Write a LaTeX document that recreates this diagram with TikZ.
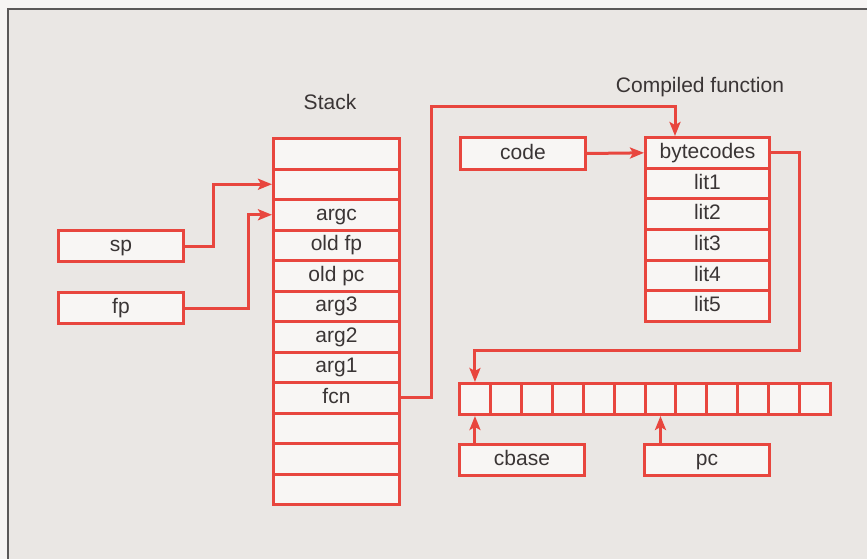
\documentclass[tikz,border=0pt]{standalone}
\usepackage{fontspec}
\setmainfont{Liberation Sans}
\usetikzlibrary{arrows.meta,calc}
\definecolor{lred}{HTML}{E8463E}
\definecolor{bg}{HTML}{EAE7E4}
\definecolor{paper}{HTML}{F6F4F3}
\definecolor{boxfill}{HTML}{F8F6F4}
\definecolor{ink}{HTML}{3A3535}
\definecolor{frame}{HTML}{5A5858}
\tikzset{
  cellbox/.style={draw=lred, fill=boxfill, line width=3pt, inner sep=0pt,
    anchor=north west, text=ink, font=\fontsize{21}{24}\selectfont,
    text height=15pt, text depth=4pt},
  stk/.style={cellbox, minimum width=126pt, minimum height=30.5pt},
  cfn/.style={cellbox, minimum width=124pt, minimum height=30.67pt},
  arr/.style={cellbox, minimum width=30.92pt, minimum height=31pt},
  ptr/.style={cellbox, minimum width=125pt, minimum height=31pt},
  conn/.style={draw=lred, line width=3pt},
  conna/.style={conn, -{Stealth[length=14pt,width=11pt,inset=3pt]}},
  lbl/.style={text=ink, font=\fontsize{21}{24}\selectfont}
}
\begin{document}
\begin{tikzpicture}[x=1pt,y=-1pt]
\useasboundingbox (0,0) rectangle (867,559);
\fill[paper] (0,0) rectangle (867,559);
\fill[bg] (8,9) rectangle (870,562);
\draw[frame, line width=1.6pt] (872,9) -- (8,9) -- (8,563);

% Stack
\node[lbl] (stacklbl) at (330,102) {Stack};
\foreach \i/\t in {1/,2/,3/argc,4/old fp,5/old pc,6/arg3,7/arg2,8/arg1,9/fcn,10/,11/,12/} {
  \node[stk] (s\i) at (272,{137+30.5*(\i-1)}) {\t};
}

% Compiled function
\node[lbl] (cflbl) at (700,87) {Compiled function};
\foreach \i/\t in {1/bytecodes,2/lit1,3/lit2,4/lit3,5/lit4,6/lit5} {
  \node[cfn] (f\i) at (644,{136+30.67*(\i-1)}) {\t};
}

% byte array
\foreach \i in {1,...,12} {
  \node[arr] (c\i) at ({458+30.92*(\i-1)},382) {};
}

% pointer boxes
\node[ptr] (sp) at (57,229) {sp};
\node[ptr] (fp) at (57,291) {fp};
\node[ptr, minimum height=32pt] (code) at (459,136) {code};
\node[ptr] (cbase) at (458,443) {cbase};
\node[ptr] (pc) at (643,443) {pc};

% connectors
\draw[conna] (sp.east) -- ++(28,0) |- (s2.west);
\draw[conna] (fp.east) -- ++(63,0) |- (s3.west);
\coordinate (fcntop) at (675,107);
\draw[conna] (s9.east) -- ++(30,0) |- (fcntop) -- (fcntop |- f1.north);
\draw[conna] (code.east) -- (f1.west);
\coordinate (bcturn) at (799,350);
\draw[conna] (f1.east) -| (bcturn) -- (bcturn -| c1.north) -- (c1.north);
\draw[conna] (c1.south |- cbase.north) -- (c1.south);
\draw[conna] (c7.south |- pc.north) -- (c7.south);
\end{tikzpicture}
\end{document}
